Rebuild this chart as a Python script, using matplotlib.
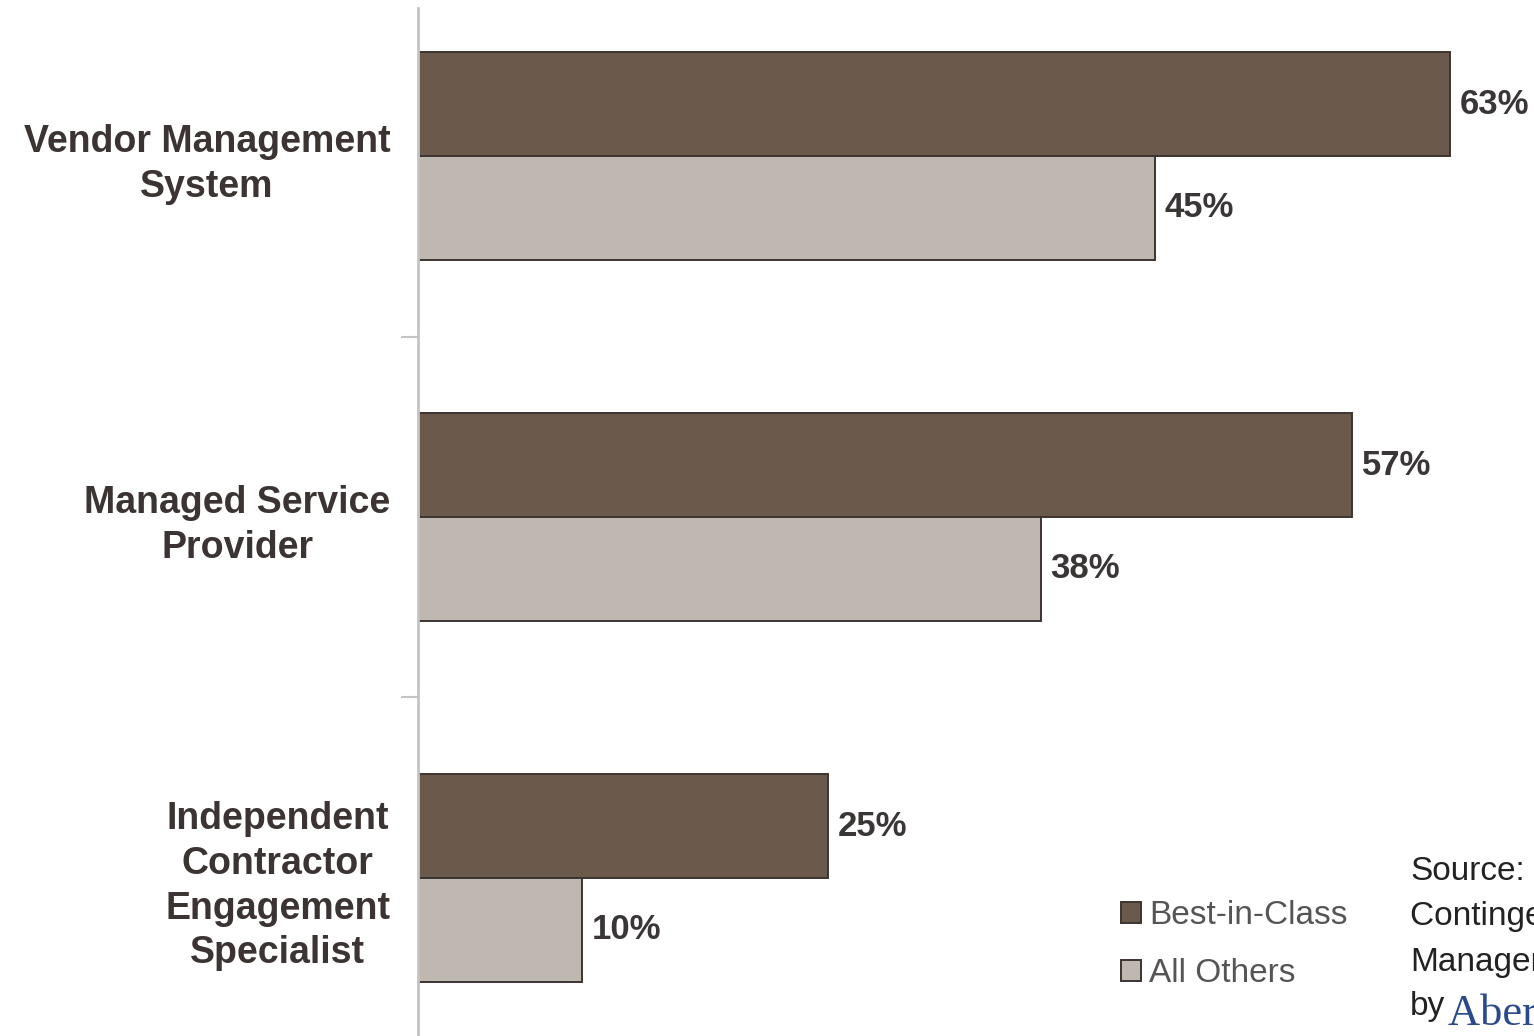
import numpy as np
import matplotlib
matplotlib.use("Agg")
import matplotlib.pyplot as plt

categories = ["Vendor Management\nSystem", "Managed Service\nProvider",
              "Independent\nContractor\nEngagement\nSpecialist"]
best_in_class = [63, 57, 25]
all_others = [45, 38, 10]
series_names = ["Best-in-Class", "All Others"]
source_lines = ["Source:", "Contingent Workforce", "Management", "by"]

DARK = "#6b5a4c"
LIGHT = "#bfb8b1"
EDGE = "#3d3431"
GRID = "#c4c4c4"

plt.rcParams["font.family"] = ["Liberation Sans", "DejaVu Sans"]

W, H = 1534, 1036
fig = plt.figure(figsize=(W / 100, H / 100), dpi=100)
ax = fig.add_axes([418 / W, 0, (1532 - 418) / W, 1 - 8 / H])

y = np.arange(len(categories))
bh = 0.288
b1 = ax.barh(y - bh / 2, best_in_class, height=bh, color=DARK, edgecolor=EDGE, linewidth=1.4,
             label=series_names[0])
b2 = ax.barh(y + bh / 2, all_others, height=bh, color=LIGHT, edgecolor=EDGE, linewidth=1.4,
             label=series_names[1])
for cont, vals in ((b1, best_in_class), (b2, all_others)):
    ax.bar_label(cont, labels=[f"{v}%" for v in vals], padding=7, fontsize=25,
                 fontweight="bold", color="#3a3636")

ax.set_xlim(0, 68)
ax.set_ylim(2.4377, -0.41)
ax.set_xticks([])
for s in ("top", "right", "bottom"):
    ax.spines[s].set_visible(False)
ax.spines["left"].set_color(GRID)
ax.spines["left"].set_linewidth(2)

# ticks between the groups, labels on the group centres
ax.set_yticks([0.5, 1.5], ["", ""])
ax.tick_params(axis="y", which="major", length=12, width=1.5, color=GRID)
ax.set_yticks(y, categories, minor=True)
ax.tick_params(axis="y", which="minor", length=0, pad=20, labelsize=27, labelcolor="#3b3433")
for t in ax.get_yticklabels(minor=True):
    t.set_fontweight("bold")
    t.set_multialignment("center")
    t.set_linespacing(1.31)

fig.legend(handles=[b1, b2], labels=series_names, loc="upper left",
           bbox_to_anchor=(1121 / W, 1 - 900 / H), frameon=False, fontsize=24,
           handlelength=0.6, handleheight=0.6, handletextpad=0.25, labelspacing=0.82,
           borderpad=0, borderaxespad=0, labelcolor="#555555")

for i, line in enumerate(source_lines):
    fig.text(1410 / W, 1 - (872 + 45 * i) / H, line, fontsize=24, color="#222222",
             va="center", ha="left")
fig.text(1448 / W, 1 - 1014 / H, "Aberdeen Group", fontsize=32, color="#2b4a8b",
         family="Liberation Serif", va="center", ha="left")

fig.savefig("out.png", dpi=100)
